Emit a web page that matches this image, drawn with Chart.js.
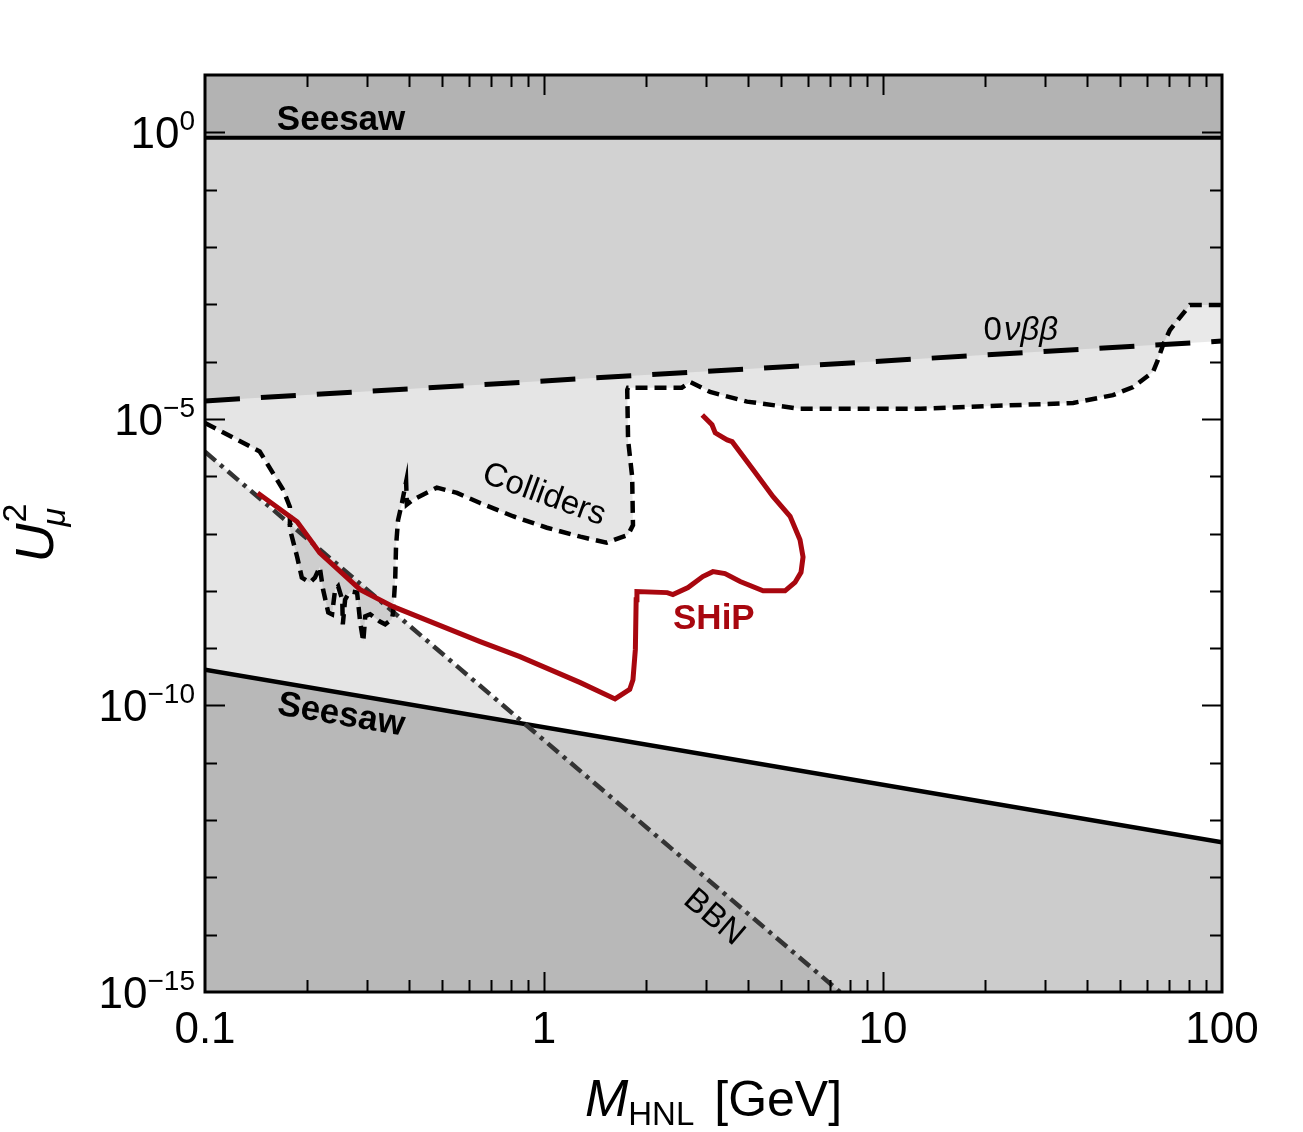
<!DOCTYPE html>
<html>
<head>
<meta charset="utf-8">
<title>HNL mixing U_mu^2 vs mass</title>
<script src="https://cdn.jsdelivr.net/npm/chart.js@4.4.1/dist/chart.umd.min.js"></script>
<style>
body{margin:0;background:#fff}
canvas{display:block}
</style>
</head>
<body>
<canvas id="cnv" width="1303" height="1132"></canvas>
<script>
// masses in GeV, mixings are U_mu^2
var xTickLabels = [0.1, 1, 10, 100]
var yTickExps = [0, -5, -10, -15]

var seesawTopMass = [0.1, 100]
var seesawTopU2 = [0.8, 0.8]

var seesawLowMass = [0.1, 100]
var seesawLowU2 = [4.2e-10, 4.1e-13]

var nuBBMass = [0.1, 100]
var nuBBU2 = [2.06e-5, 2.28e-4]

var bbnMass = [0.1, 7.47]
var bbnU2 = [2.66e-6, 1e-15]

var colliderMass = [0.1, 0.145, 0.170, 0.178, 0.178, 0.187, 0.193, 0.204, 0.211, 0.218, 0.223, 0.231, 0.237, 0.242, 0.247, 0.254,
    0.255, 0.259, 0.264, 0.271, 0.281, 0.287, 0.293, 0.297, 0.307, 0.328, 0.340, 0.356, 0.359, 0.364, 0.366, 0.371, 0.381, 0.392,
    0.394, 0.411, 0.483, 0.554, 0.648, 0.810, 1.02, 1.28, 1.53, 1.77, 1.83, 1.82, 1.77, 1.76, 1.77, 2.55, 2.70, 3.09, 3.97, 5.69,
    12.9, 36.4, 47.7, 54.7, 62.6, 64.7, 67.0, 70.2, 80.4, 100]
var colliderU2 = [8.5e-6, 2.7e-6, 5.8e-7, 2.9e-7, 1.2e-7, 3.9e-8, 1.7e-8, 1.4e-8, 1.7e-8, 2.6e-8, 1.05e-8, 4.2e-9, 3.9e-9, 1.05e-8,
    1.2e-8, 7.0e-9, 2.6e-9, 7.0e-9, 8.6e-9, 9.7e-9, 9.3e-9, 2.8e-9, 1.3e-9, 3.6e-9, 3.9e-9, 2.9e-9, 2.6e-9, 3.2e-9, 4.3e-9, 1.6e-8,
    5.9e-8, 1.7e-7, 3.4e-7, 8.0e-7, 3.2e-7, 3.9e-7, 6.3e-7, 5.1e-7, 3.4e-7, 2.0e-7, 1.26e-7, 8.8e-8, 6.9e-8, 9.5e-8, 1.4e-7, 9.8e-7,
    4.3e-6, 3.2e-5, 3.5e-5, 3.5e-5, 4.4e-5, 2.95e-5, 2.0e-5, 1.5e-5, 1.5e-5, 1.9e-5, 2.6e-5, 3.6e-5, 6.6e-5, 1.07e-4, 1.95e-4,
    3.55e-4, 9.7e-4, 9.7e-4]

var shipMass = [0.143, 0.187, 0.218, 0.287, 0.359, 0.648, 0.849, 1.28, 1.62, 1.79, 1.83, 1.86, 1.87, 1.88, 2.31, 2.40, 2.66, 2.94,
    3.15, 3.42, 3.79, 4.43, 5.14, 5.50, 5.73, 5.81, 5.69, 5.32, 4.74, 4.14, 3.59, 3.47, 3.20, 3.13, 2.93]
var shipU2 = [5.1e-7, 1.6e-7, 4.6e-8, 1.05e-8, 5.3e-9, 1.3e-9, 7.1e-10, 2.5e-10, 1.3e-10, 1.9e-10, 2.8e-10, 9.5e-10, 7.0e-9, 9.7e-9,
    9.3e-9, 8.6e-9, 1.14e-8, 1.77e-8, 2.16e-8, 2.0e-8, 1.45e-8, 1.0e-8, 1.0e-8, 1.4e-8, 2.1e-8, 3.9e-8, 7.8e-8, 2.0e-7, 4.4e-7,
    1.3e-6, 4.0e-6, 4.3e-6, 5.7e-6, 7.9e-6, 1.17e-5]

// text labels placed in data coordinates (mass, U2)
var labels = [
    {t: 'Seesaw', m: 0.252, u: 1.08, font: 'bold 35px', base: 'alphabetic'},
    {t: 'Seesaw', m: 0.252, u: 6.7e-11, font: 'bold 35px', rot: 'seesaw'},
    {t: 'Colliders', m: 1.0, u: 4.7e-7, font: '33px', deg: 20},
    {t: 'BBN', m: 3.17, u: 2.0e-14, font: '33px', rot: 'bbn'},
    {t: 'SHiP', m: 3.17, u: 3.2e-9, font: 'bold 35px', color: '#a8070f'}
]

var F = '"Liberation Sans", Arial, Helvetica, sans-serif'
var RED = '#a8070f'

function pts(ms, us){
    return ms.map((m, i) => ({x: m, y: us[i]}))
}

function rich(ctx, parts, x, y, align){
    var w = 0
    parts.forEach(p => { ctx.font = p.font; p.w = ctx.measureText(p.t).width; w += p.w + (p.gap || 0) })
    var cx = align == 'right' ? x - w : align == 'center' ? x - w / 2 : x
    ctx.textAlign = 'left'
    ctx.textBaseline = 'alphabetic'
    parts.forEach(p => {
        ctx.font = p.font
        ctx.fillText(p.t, cx, y + (p.dy || 0))
        cx += p.w + (p.gap || 0)
    })
}

function lineAngle(xs, ys, ms, us){
    var x0 = xs.getPixelForValue(ms[0]), y0 = ys.getPixelForValue(us[0])
    var x1 = xs.getPixelForValue(ms[ms.length - 1]), y1 = ys.getPixelForValue(us[us.length - 1])
    return Math.atan2(y1 - y0, x1 - x0)
}

var overlay = {
    id: 'overlay',
    afterDraw: function(chart){
        var ctx = chart.ctx, a = chart.chartArea
        var xs = chart.scales.x, ys = chart.scales.y
        ctx.save()
        ctx.fillStyle = '#000'
        ctx.strokeStyle = '#000'

        // inward ticks on all four sides
        ctx.lineWidth = 2
        ctx.beginPath()
        ;[0.1, 1, 10].forEach(d => {
            for (var k = 1; k <= 9; k++) {
                var px = Math.round(xs.getPixelForValue(k * d)) + 0.5
                var len = k == 1 ? 20 : 12
                if (k == 1 && d == 0.1) continue
                ctx.moveTo(px, a.bottom); ctx.lineTo(px, a.bottom - len)
                ctx.moveTo(px, a.top); ctx.lineTo(px, a.top + len)
            }
        })
        for (var e = -14; e <= 0; e++) {
            var py = Math.round(ys.getPixelForValue(Math.pow(10, e))) + 0.5
            var len = e % 5 == 0 ? 20 : 12
            ctx.moveTo(a.left, py); ctx.lineTo(a.left + len, py)
            ctx.moveTo(a.right, py); ctx.lineTo(a.right - len, py)
        }
        ctx.stroke()

        // frame
        ctx.lineWidth = 3
        ctx.strokeRect(a.left, a.top, a.right - a.left, a.bottom - a.top)

        // x tick labels
        ctx.font = '44px ' + F
        ctx.textAlign = 'center'
        ctx.textBaseline = 'alphabetic'
        xTickLabels.forEach(v => {
            ctx.fillText(String(v), xs.getPixelForValue(v), a.bottom + 51)
        })

        // y tick labels 10^n
        yTickExps.forEach(e => {
            var py = ys.getPixelForValue(Math.pow(10, e))
            var ex = e == 0 ? '0' : '\u2212' + String(-e)
            rich(ctx, [
                {t: '10', font: '44px ' + F, dy: 16},
                {t: ex, font: '28px ' + F, dy: -2}
            ], 195, py, 'right')
        })

        // x title
        rich(ctx, [
            {t: 'M', font: 'italic 52px ' + F},
            {t: 'HNL', font: '33px ' + F, dy: 9, gap: 20},
            {t: '[GeV]', font: '50px ' + F}
        ], (a.left + a.right) / 2, 1116, 'center')

        // y title, rotated
        ctx.save()
        ctx.translate(53, (a.top + a.bottom) / 2)
        ctx.rotate(-Math.PI / 2)
        ctx.font = 'italic 54px ' + F
        var uw = ctx.measureText('U').width
        ctx.font = '34px ' + F
        var sw = ctx.measureText('2').width
        var x0 = -(uw + sw) / 2
        ctx.textAlign = 'left'
        ctx.textBaseline = 'alphabetic'
        ctx.font = 'italic 54px ' + F
        ctx.fillText('U', x0, 0)
        ctx.font = '34px ' + F
        ctx.fillText('2', x0 + uw + 1, -27)
        ctx.font = 'italic 34px ' + F
        ctx.fillText('\u03bc', x0 + uw - 3, 12)
        ctx.restore()

        // 0vbb label
        var nx = xs.getPixelForValue(25.5), ny = ys.getPixelForValue(3.85e-4)
        rich(ctx, [
            {t: '0', font: '33px ' + F, gap: 2},
            {t: '\u03bd\u03b2\u03b2', font: 'italic 33px ' + F}
        ], nx, ny + 12, 'center')

        // other labels
        labels.forEach(l => {
            var px = xs.getPixelForValue(l.m), py = ys.getPixelForValue(l.u)
            var ang = 0
            if (l.rot == 'seesaw') ang = lineAngle(xs, ys, seesawLowMass, seesawLowU2)
            if (l.rot == 'bbn') ang = lineAngle(xs, ys, bbnMass, bbnU2)
            if (l.deg) ang = l.deg * Math.PI / 180
            ctx.save()
            ctx.translate(px, py)
            ctx.rotate(ang)
            ctx.fillStyle = l.color || '#000'
            ctx.font = l.font + ' ' + F
            ctx.textAlign = 'center'
            ctx.textBaseline = l.base || 'middle'
            ctx.fillText(l.t, 0, 0)
            ctx.restore()
        })
        ctx.restore()
    }
}

var datasets = [
    {label: 'SHiP', data: pts(shipMass, shipU2), borderColor: RED, borderWidth: 5, fill: false, order: 0},
    {label: 'Colliders', data: pts(colliderMass, colliderU2), borderColor: '#000', borderWidth: 4.5, borderDash: [12, 7],
        fill: 'end', backgroundColor: 'rgba(0,0,0,0.1)', order: 1},
    {label: '0vbb', data: pts(nuBBMass, nuBBU2), borderColor: '#000', borderWidth: 5, borderDash: [35, 21],
        fill: 'end', backgroundColor: 'rgba(0,0,0,0.085)', order: 2},
    {label: 'BBN', data: pts(bbnMass, bbnU2), borderColor: '#333', borderWidth: 4.5, borderDash: [14, 6, 4, 6],
        fill: 'start', backgroundColor: 'rgba(0,0,0,0.1)', order: 3},
    {label: 'Seesaw low', data: pts(seesawLowMass, seesawLowU2), borderColor: '#000', borderWidth: 4.5,
        fill: 'start', backgroundColor: 'rgba(0,0,0,0.2)', order: 4},
    {label: 'Seesaw top', data: pts(seesawTopMass, seesawTopU2), borderColor: '#000', borderWidth: 4,
        fill: 'end', backgroundColor: 'rgba(0,0,0,0.15)', order: 5}
]
datasets.forEach(d => { d.pointRadius = 0; d.tension = 0; d.borderCapStyle = 'butt' })

var chart = new Chart(document.getElementById('cnv').getContext('2d'), {
    type: 'line',
    data: {datasets: datasets},
    options: {
        responsive: false,
        devicePixelRatio: 1,
        animation: false,
        events: [],
        layout: {padding: {left: 205, top: 75, right: 81, bottom: 140}},
        scales: {
            x: {type: 'logarithmic', min: 0.1, max: 100, display: false},
            y: {type: 'logarithmic', min: 1e-15, max: 10, display: false}
        },
        plugins: {
            legend: {display: false},
            tooltip: {enabled: false},
            filler: {propagate: false, drawTime: 'beforeDatasetsDraw'}
        }
    },
    plugins: [overlay]
})
</script>
</body>
</html>
